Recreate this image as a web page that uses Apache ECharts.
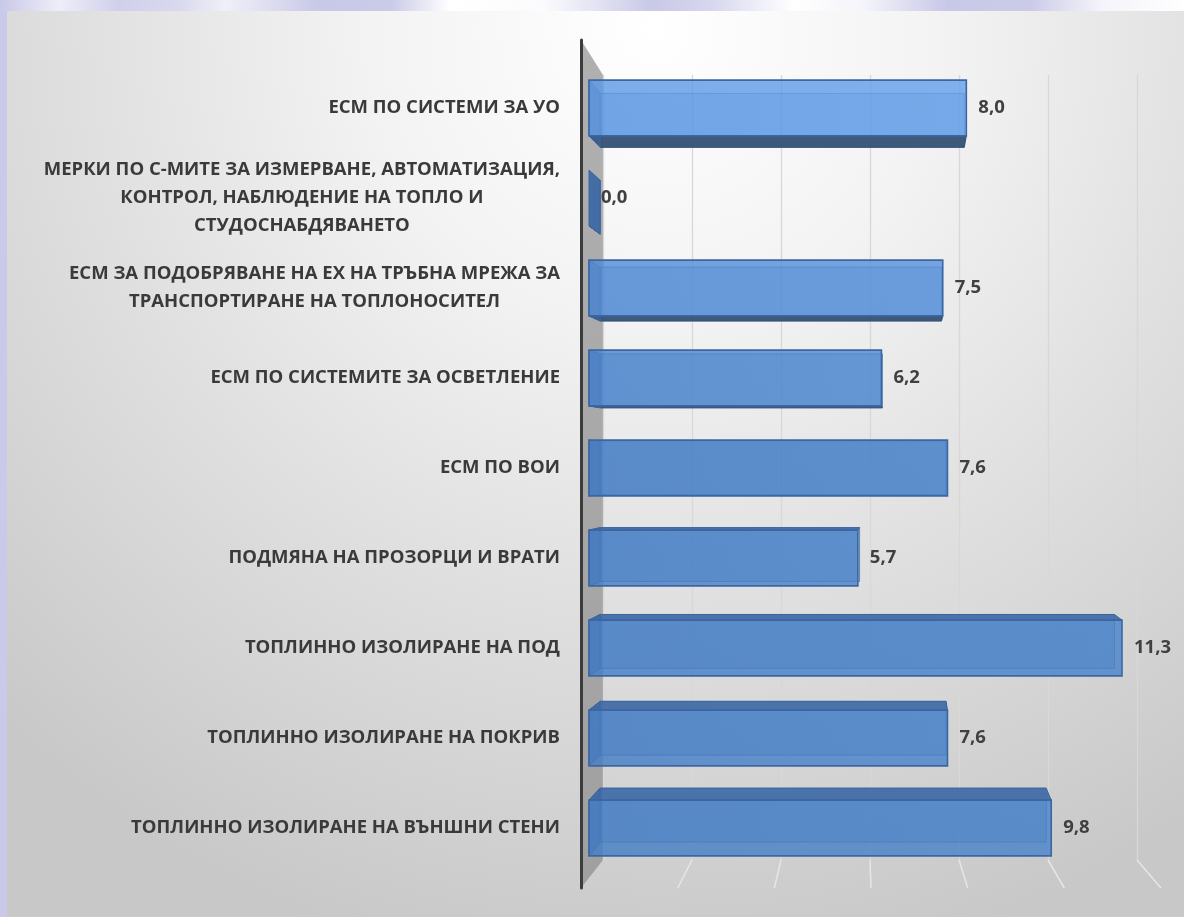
<!DOCTYPE html>
<html>
<head>
<meta charset="utf-8">
<script src="https://cdn.jsdelivr.net/npm/echarts@6/dist/echarts.min.js"></script>
<style>
html,body{margin:0;padding:0;background:#c9c9e9;}
#chart{width:1184px;height:917px;}
</style>
</head>
<body>
<div id="chart"></div>
<script>
const categories = [
  'ЕСМ ПО СИСТЕМИ ЗА УО',
  'МЕРКИ ПО С-МИТЕ ЗА ИЗМЕРВАНЕ, АВТОМАТИЗАЦИЯ,\nКОНТРОЛ, НАБЛЮДЕНИЕ НА ТОПЛО И\nСТУДОСНАБДЯВАНЕТО',
  'ЕСМ ЗА ПОДОБРЯВАНЕ НА ЕХ НА ТРЪБНА МРЕЖА ЗА\nТРАНСПОРТИРАНЕ НА ТОПЛОНОСИТЕЛ',
  'ЕСМ ПО СИСТЕМИТЕ ЗА ОСВЕТЛЕНИЕ',
  'ЕСМ ПО ВОИ',
  'ПОДМЯНА НА ПРОЗОРЦИ И ВРАТИ',
  'ТОПЛИННО ИЗОЛИРАНЕ НА ПОД',
  'ТОПЛИННО ИЗОЛИРАНЕ НА ПОКРИВ',
  'ТОПЛИННО ИЗОЛИРАНЕ НА ВЪНШНИ СТЕНИ'
];
const values = [8.0, 0.0, 7.5, 6.2, 7.6, 5.7, 11.3, 7.6, 9.8];
const axisMin = 0;
const axisMax = 12;
const axisInterval = 2;

const FONT = '"Open Sans", "DejaVu Sans", sans-serif';
const FS = 18.5;
const VX = 908, VY = 460, S = 0.965;

const chart = echarts.init(document.getElementById('chart'), null, {renderer: 'canvas'});

function fmt(v) { return v.toFixed(1).replace('.', ','); }

const barData = values.map((v, i) => [i, v]);

function mix(a, b, t) { return a.map((x, k) => Math.round(x + (b[k] - x) * t)); }

function renderBar(params, api) {
  const i = api.value(0), v = api.value(1);
  const p0 = api.coord([0, i]);
  const p1 = api.coord([v, i]);
  const bh = api.size([0, 1])[1] * 0.62;
  const cy = p0[1];
  const yt = cy - bh / 2, yb = cy + bh / 2;
  const x0 = p0[0], x1 = p1[0];
  const back = (p) => [VX + (p[0] - VX) * S, VY + (p[1] - VY) * S];
  const F = [[x0, yt], [x1, yt], [x1, yb], [x0, yb]];
  const B = F.map(back);
  const t = Math.min(1, Math.max(0, (cy - 108) / 360));
  const c = mix([92, 152, 228], [67, 124, 196], t);
  const c2 = mix([100, 160, 234], [72, 130, 202], t);
  const edge = '#3b66a2';
  const ch = [];
  ch.push({type: 'polygon', shape: {points: B}, style: {fill: 'rgba(70,120,190,0.3)', stroke: 'rgba(58,103,166,0.7)', lineWidth: 1}});
  if (yt > VY + 1) {
    ch.push({type: 'polygon', shape: {points: [F[0], F[1], B[1], B[0]]}, style: {fill: 'rgba(66,108,166,0.92)', stroke: edge, lineWidth: 1}});
  }
  if (yb < VY - 1) {
    ch.push({type: 'polygon', shape: {points: [F[3], F[2], B[2], B[3]]}, style: {fill: 'rgba(56,82,116,0.95)', stroke: '#34537c', lineWidth: 1}});
  }
  if (x0 < VX) {
    ch.push({type: 'polygon', shape: {points: [F[0], F[3], B[3], B[0]]}, style: {fill: v === 0 ? 'rgba(62,104,164,0.95)' : 'rgba(60,100,160,0.5)', stroke: edge, lineWidth: 1}});
  }
  if (x1 - x0 > 0.5) {
    ch.push({type: 'rect', shape: {x: x0, y: yt, width: x1 - x0, height: bh},
      style: {
        fill: {type: 'linear', x: 0, y: 0, x2: 1, y2: 0, colorStops: [
          {offset: 0, color: 'rgba(' + c.join(',') + ',0.8)'},
          {offset: 1, color: 'rgba(' + c2.join(',') + ',0.8)'}
        ]},
        stroke: edge, lineWidth: 1.6
      }});
  }
  ch.push({type: 'text', style: {text: fmt(v), x: x1 + 12, y: cy, verticalAlign: 'middle', align: 'left',
    font: 'bold ' + FS + 'px ' + FONT, fill: '#404040'}});
  return {type: 'group', children: ch};
}

const option = {
  backgroundColor: '#c9c9e9',
  animation: false,
  grid: [
    {left: 589, top: 63, width: 566, height: 810},
    {left: 603, top: 75, width: 534, height: 785},
    {left: 581, top: 40, width: 580, height: 848}
  ],
  xAxis: [
    {gridIndex: 0, type: 'value', min: axisMin, max: axisMax, interval: axisInterval, show: false},
    {gridIndex: 1, type: 'value', min: axisMin, max: axisMax, interval: axisInterval,
      axisLine: {show: false}, axisTick: {show: false}, axisLabel: {show: false},
      splitLine: {show: true, lineStyle: {color: '#d8d8d8', width: 1.3}}},
    {gridIndex: 2, type: 'value', min: axisMin, max: axisMax, interval: axisInterval, show: false}
  ],
  yAxis: [
    {gridIndex: 0, type: 'category', data: categories, inverse: true,
      axisLine: {show: false}, axisTick: {show: false}, splitLine: {show: false},
      axisLabel: {
        margin: 29, align: 'right', color: '#3a3a3a', fontFamily: FONT, fontWeight: 'bold', fontSize: FS, lineHeight: 28,
        formatter: (val) => val.indexOf('\n') >= 0 ? val.split('\n').map(l => '{c|' + l + '}').join('\n') : val,
        rich: {c: {align: 'center', color: '#3a3a3a', fontFamily: FONT, fontWeight: 'bold', fontSize: FS, lineHeight: 28}}
      }},
    {gridIndex: 1, type: 'value', min: 0, max: 1, show: false},
    {gridIndex: 2, type: 'value', min: 0, max: 1,
      axisLine: {show: true, lineStyle: {color: '#3c3c3c', width: 3}}, axisTick: {show: false},
      axisLabel: {show: false}, splitLine: {show: false}}
  ],
  series: [
    {type: 'custom', xAxisIndex: 0, yAxisIndex: 0, data: barData, encode: {x: 1, y: 0}, renderItem: renderBar, z: 5}
  ]
};
chart.setOption(option);

const g1 = (v, y) => chart.convertToPixel({xAxisIndex: 1, yAxisIndex: 1}, [v, y]);
const g2 = (v, y) => chart.convertToPixel({xAxisIndex: 2, yAxisIndex: 2}, [v, y]);
const graphics = [
  {type: 'rect', z: -100, shape: {x: 0, y: 0, width: 1184, height: 11},
    style: {fill: {type: 'linear', x: 0, y: 0, x2: 1, y2: 0, colorStops: [
      {offset: 0, color: '#c8c8e8'}, {offset: 0.05, color: '#eeeef8'}, {offset: 0.1, color: '#d0d0ec'},
      {offset: 0.15, color: '#d8d8ee'}, {offset: 0.19, color: '#f0f0f8'}, {offset: 0.27, color: '#c8c8e8'},
      {offset: 0.33, color: '#cacae9'}, {offset: 0.38, color: '#ffffff'}, {offset: 0.46, color: '#fbfbfd'},
      {offset: 0.55, color: '#c9c9e8'}, {offset: 0.6, color: '#d6d6ee'}, {offset: 0.67, color: '#ffffff'},
      {offset: 0.73, color: '#f4f4fa'}, {offset: 0.8, color: '#c8c8e8'}, {offset: 0.87, color: '#cbcbe9'},
      {offset: 0.93, color: '#f4f4fa'}, {offset: 1, color: '#ffffff'}
    ]}}},
  {type: 'rect', z: -99, shape: {x: 7, y: 11, width: 1177, height: 906},
    style: {fill: {type: 'radial', x: 0.55, y: 0.02, r: 1.05, colorStops: [
      {offset: 0, color: '#ffffff'}, {offset: 0.3, color: '#f3f3f3'}, {offset: 0.6, color: '#e0e0e0'}, {offset: 1, color: '#c8c8c8'}
    ]}}}
];
graphics.push({type: 'polygon', z: -1, shape: {points: [g2(0, 1), g1(0, 1), g1(0, 0), g2(0, 0)]},
  style: {fill: {type: 'linear', x: 0, y: 0, x2: 0, y2: 1, colorStops: [
    {offset: 0, color: '#b0b0b0'}, {offset: 1, color: '#a0a0a0'}]}}});
for (let v = axisMin + axisInterval; v <= axisMax; v += axisInterval) {
  const a = g1(v, 0), b = g2(v, 0);
  graphics.push({type: 'line', z: -1, shape: {x1: a[0], y1: a[1], x2: b[0], y2: b[1]},
    style: {stroke: '#e6e6e6', lineWidth: 1.5}});
}
chart.setOption({graphic: graphics});
</script>
</body>
</html>
